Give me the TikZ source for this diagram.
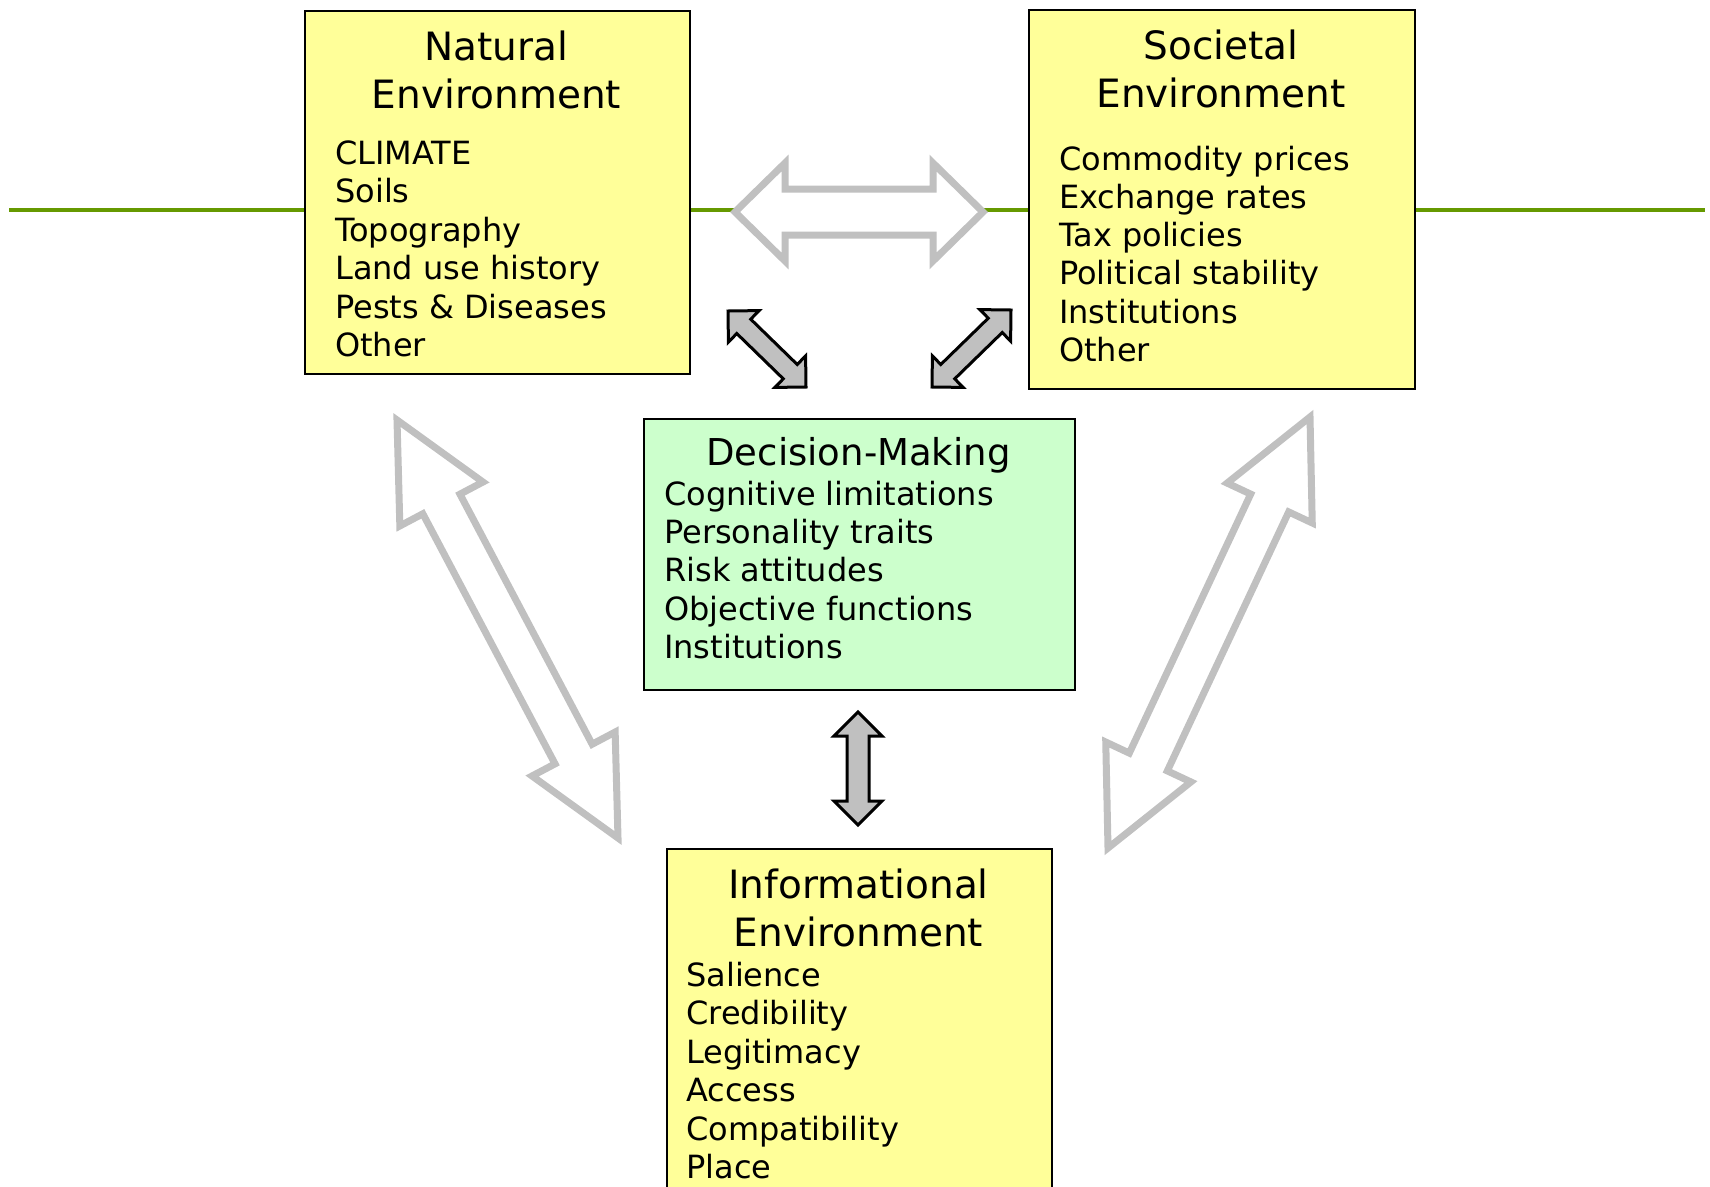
\documentclass[tikz,border=0pt]{standalone}
\usepackage{fontspec}
\setmainfont{DejaVu Sans}
\usetikzlibrary{calc}
\definecolor{boxyellow}{HTML}{FFFF99}
\definecolor{boxgreen}{HTML}{CCFFCC}
\definecolor{linegreen}{HTML}{669900}
\definecolor{arrowgray}{HTML}{C0C0C0}
% #1 start, #2 end, #3 shaft half width, #4 head half width, #5 head length, #6 style
\newcommand\fatarrow[6]{%
  \path[#6] (#1)
    -- ($(#1)!#5!(#2)!#4!90:(#2)$)
    -- ($(#1)!#5!(#2)!#3!90:(#2)$)
    -- ($(#2)!#5!(#1)!#3!-90:(#1)$)
    -- ($(#2)!#5!(#1)!#4!-90:(#1)$)
    -- (#2)
    -- ($(#2)!#5!(#1)!#4!90:(#1)$)
    -- ($(#2)!#5!(#1)!#3!90:(#1)$)
    -- ($(#1)!#5!(#2)!#3!-90:(#2)$)
    -- ($(#1)!#5!(#2)!#4!-90:(#2)$)
    -- cycle;}
\begin{document}
\begin{tikzpicture}[x=1pt,y=-1pt,
  envbox/.style={draw=black,line width=2pt,rectangle,inner sep=0pt,anchor=north west},
  item/.style={anchor=base west,inner sep=0pt,font=\fontsize{32}{38}\selectfont},
  ttl/.style={anchor=base,inner sep=0pt,font=\fontsize{39}{47}\selectfont},
  hollow/.style={draw=arrowgray,fill=white,line width=7pt,line join=miter},
  solidarrow/.style={draw=black,fill=arrowgray,line width=3pt,line join=miter}]
\useasboundingbox (0,0) rectangle (1710,1186);
\clip (0,0) rectangle (1710,1186);
% green rule
\coordinate (gl1) at (9,210);
\coordinate (gl2) at (1705,210);
\draw[linegreen,line width=3.5pt] (gl1) -- (gl2);
% boxes
\node[envbox,fill=boxyellow,minimum width=385pt,minimum height=363pt] (nat) at (304,10) {};
\node[envbox,fill=boxyellow,minimum width=386pt,minimum height=379pt] (soc) at (1028,9) {};
\node[envbox,fill=boxgreen,minimum width=431pt,minimum height=271pt] (dec) at (643,418) {};
\node[envbox,fill=boxyellow,minimum width=385pt,minimum height=360pt] (inf) at (666,848) {};
% Natural
\node[ttl] (natt1) at (496.5,60) {Natural};
\node[ttl] (natt2) at (496.5,108) {Environment};
\foreach \t [count=\i from 0] in {CLIMATE,Soils,Topography,Land use history,Pests \& Diseases,Other}
  \node[item] (nati\i) at (335,164.5+38.4*\i) {\t};
% Societal
\node[ttl] (soct1) at (1221,59.5) {Societal};
\node[ttl] (soct2) at (1221,107.5) {Environment};
\foreach \t [count=\i from 0] in {Commodity prices,Exchange rates,Tax policies,Political stability,Institutions,Other}
  \node[item] (soci\i) at (1059,170+38.3*\i) {\t};
% Decision
\node[ttl,font=\fontsize{37}{44}\selectfont] (dect) at (858.5,465) {Decision-Making};
\foreach \t [count=\i from 0] in {Cognitive limitations,Personality traits,Risk attitudes,Objective functions,Institutions}
  \node[item] (deci\i) at (664,505+38.4*\i) {\t};
% Informational
\node[ttl] (inft1) at (858.5,898) {Informational};
\node[ttl] (inft2) at (858.5,946) {Environment};
\foreach \t [count=\i from 0] in {Salience,Credibility,Legitimacy,Access,Compatibility,Place}
  \node[item] (infi\i) at (686,986.5+38.4*\i) {\t};
% arrows
\coordinate (hA) at (735,212);
\coordinate (hB) at (983,212);
\fatarrow{hA}{hB}{23pt}{49pt}{50pt}{hollow}
\coordinate (lA) at (397,420);
\coordinate (lB) at (618,838);
\fatarrow{lA}{lB}{21pt}{47pt}{95pt}{hollow}
\coordinate (rA) at (1310,417);
\coordinate (rB) at (1108,848);
\fatarrow{rA}{rB}{21pt}{47pt}{95pt}{hollow}
\coordinate (sA) at (728,311);
\coordinate (sB) at (806,387);
\fatarrow{sA}{sB}{10pt}{22pt}{22pt}{solidarrow}
\coordinate (tA) at (1011,310);
\coordinate (tB) at (932,387);
\fatarrow{tA}{tB}{10pt}{22pt}{22pt}{solidarrow}
\coordinate (vA) at (858,712);
\coordinate (vB) at (858,825);
\fatarrow{vA}{vB}{11pt}{24pt}{24pt}{solidarrow}
\end{tikzpicture}
\end{document}
